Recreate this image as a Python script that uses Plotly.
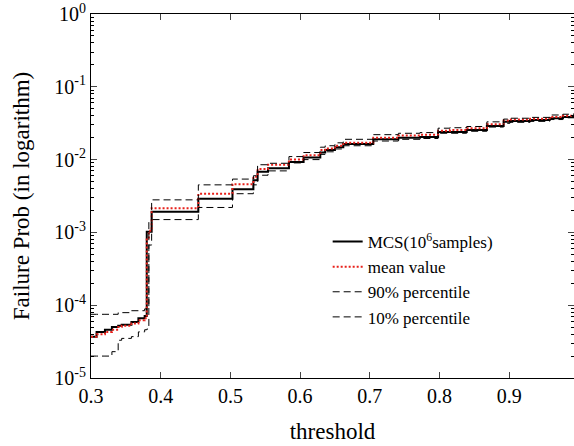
import plotly.graph_objects as go

# step breakpoints (threshold) shared by all curves
thr = [0.300, 0.308, 0.320, 0.330, 0.339, 0.344, 0.358, 0.368, 0.377, 0.380,
       0.383, 0.387, 0.454, 0.503, 0.533, 0.539, 0.554, 0.584, 0.605, 0.629,
       0.636, 0.650, 0.662, 0.705, 0.741, 0.772, 0.798, 0.815, 0.839, 0.868,
       0.892, 0.901, 0.930, 0.958, 0.977, 0.993]

mcs = [3.7e-5, 4.3e-5, 4.6e-5, 5.0e-5, 5.2e-5, 5.4e-5, 5.9e-5, 6.6e-5, 7.1e-5, 1.02e-3,
       1.02e-3, 1.92e-3, 2.9e-3, 3.9e-3, 5.2e-3, 6.8e-3, 7.6e-3, 9.3e-3, 1.07e-2, 1.25e-2,
       1.35e-2, 1.48e-2, 1.64e-2, 1.9e-2, 2.0e-2, 2.05e-2, 2.4e-2, 2.4e-2, 2.55e-2, 2.9e-2,
       3.3e-2, 3.4e-2, 3.5e-2, 3.7e-2, 3.85e-2, 3.85e-2]

mean = [3.7e-5, 4.0e-5, 4.3e-5, 4.6e-5, 5.0e-5, 5.2e-5, 5.6e-5, 6.2e-5, 6.6e-5, 8.0e-4,
        1.05e-3, 2.15e-3, 3.4e-3, 4.6e-3, 5.8e-3, 7.4e-3, 8.5e-3, 1.0e-2, 1.15e-2, 1.35e-2,
        1.42e-2, 1.55e-2, 1.7e-2, 2.0e-2, 2.15e-2, 2.2e-2, 2.5e-2, 2.55e-2, 2.7e-2, 3.05e-2,
        3.45e-2, 3.55e-2, 3.65e-2, 3.85e-2, 4.0e-2, 4.0e-2]

p90 = [7.5e-5, 7.5e-5, 7.5e-5, 7.5e-5, 7.9e-5, 7.9e-5, 8.4e-5, 8.4e-5, 8.9e-5, 9.3e-5,
       1.4e-3, 2.8e-3, 4.5e-3, 5.4e-3, 6.0e-3, 8.5e-3, 8.9e-3, 1.1e-2, 1.25e-2, 1.48e-2,
       1.55e-2, 1.7e-2, 1.9e-2, 2.2e-2, 2.3e-2, 2.35e-2, 2.7e-2, 2.74e-2, 2.85e-2, 3.3e-2,
       3.6e-2, 3.7e-2, 3.8e-2, 4.1e-2, 4.2e-2, 4.3e-2]

p10 = [2.0e-5, 2.0e-5, 2.0e-5, 2.3e-5, 3.3e-5, 3.5e-5, 3.7e-5, 4.3e-5, 4.6e-5, 4.7e-5,
       6.7e-4, 1.5e-3, 2.2e-3, 3.4e-3, 4.5e-3, 6.1e-3, 7.0e-3, 9.0e-3, 1.0e-2, 1.18e-2,
       1.28e-2, 1.4e-2, 1.55e-2, 1.8e-2, 1.9e-2, 1.95e-2, 2.3e-2, 2.3e-2, 2.45e-2, 2.8e-2,
       3.15e-2, 3.25e-2, 3.35e-2, 3.55e-2, 3.75e-2, 3.75e-2]

ytickvals = [1e-5, 1e-4, 1e-3, 1e-2, 1e-1, 1]
yticktext = ["10<sup>-5</sup>", "10<sup>-4</sup>", "10<sup>-3</sup>",
             "10<sup>-2</sup>", "10<sup>-1</sup>", "10<sup>0</sup>"]
xtickvals = [0.3, 0.4, 0.5, 0.6, 0.7, 0.8, 0.9]

minor_vals = [m * 10.0 ** e for e in range(-5, 0) for m in range(2, 10)]

font = "Liberation Serif"

fig = go.Figure()
fig.add_trace(go.Scatter(x=thr, y=mcs, mode="lines", line_shape="hv",
                         line=dict(color="black", width=2),
                         name="MCS(10<sup>6</sup>samples)"))
fig.add_trace(go.Scatter(x=thr, y=mean, mode="lines", line_shape="hv",
                         line=dict(color="#e8201a", width=2, dash="2px,2px"),
                         name="mean value"))
fig.add_trace(go.Scatter(x=thr, y=p90, mode="lines", line_shape="hv",
                         line=dict(color="black", width=1, dash="7px,4px"),
                         name="90% percentile"))
fig.add_trace(go.Scatter(x=thr, y=p10, mode="lines", line_shape="hv",
                         line=dict(color="black", width=1, dash="7px,4px"),
                         name="10% percentile"))

fig.update_layout(
    width=574, height=446,
    margin=dict(l=91, r=0, t=14, b=68),
    plot_bgcolor="white", paper_bgcolor="white",
    font=dict(family=font, size=20, color="black"),
    legend=dict(x=0.49, y=0.423, xanchor="left", yanchor="top",
                bgcolor="rgba(255,255,255,0)", font=dict(size=17),
                tracegroupgap=0, itemwidth=30),
)
fig.update_xaxes(range=[0.3, 0.993], tickvals=xtickvals, ticks="inside", ticklen=6,
                 showline=True, linecolor="black", linewidth=1, mirror="ticks",
                 showgrid=False, zeroline=False, automargin=False,
                 title=dict(text="threshold", font=dict(size=23), standoff=16))
fig.update_yaxes(type="log", range=[-5, 0], tickvals=ytickvals, ticktext=yticktext,
                 ticks="inside", ticklen=6, showline=True, linecolor="black",
                 linewidth=1, mirror="ticks", showgrid=False, zeroline=False,
                 automargin=False,
                 minor=dict(tickvals=minor_vals, ticks="inside", ticklen=3,
                            tickcolor="black", showgrid=False),
                 title=dict(text="Failure Prob (in logarithm)", font=dict(size=23),
                            standoff=18))

# the page body has a default margin; drop it so the figure sits at the window corner
fig.write_html("out.html", config={"displayModeBar": False},
               post_script="document.body.style.margin='0px';")
